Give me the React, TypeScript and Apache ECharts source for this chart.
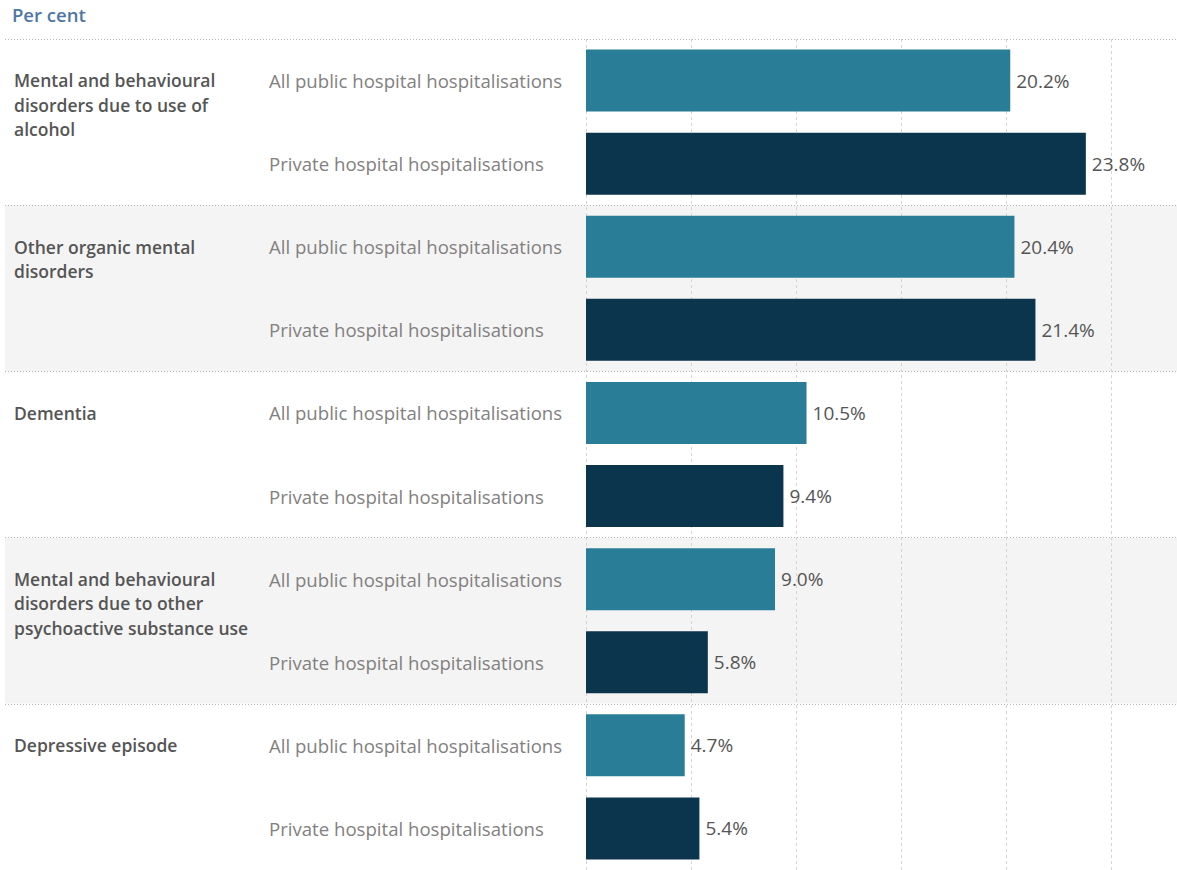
import React, { useEffect, useRef } from "react";
import * as echarts from "echarts";

const groups = [
  "Mental and behavioural\ndisorders due to use of\nalcohol",
  "Other organic mental\ndisorders",
  "Dementia",
  "Mental and behavioural\ndisorders due to other\npsychoactive substance use",
  "Depressive episode",
];
const subLabels = ["All public hospital hospitalisations", "Private hospital hospitalisations"];
const publicValues = [20.2, 20.4, 10.5, 9.0, 4.7];
const privateValues = [23.8, 21.4, 9.4, 5.8, 5.4];
const xTicks = [0, 5, 10, 15, 20, 25];

const PUBLIC_COLOR = "#2a7d96";
const PRIVATE_COLOR = "#0b354d";
const FONT = "Open Sans";

export default function App() {
  const ref = useRef<HTMLDivElement>(null);
  useEffect(() => {
    if (!ref.current) return;
    const chart = echarts.init(ref.current, undefined, { renderer: "svg" });
    const rowKeys: string[] = [];
    const rowLabels: string[] = [];
    const rowData: any[] = [];
    groups.forEach((g, i) => {
      rowKeys.push(`r${i}a`, `r${i}b`);
      rowLabels.push(subLabels[0], subLabels[1]);
      rowData.push({ value: publicValues[i], itemStyle: { color: PUBLIC_COLOR } });
      rowData.push({ value: privateValues[i], itemStyle: { color: PRIVATE_COLOR } });
    });
    const option: any = {
      animation: false,
      textStyle: { fontFamily: FONT },
      title: {
        text: "Per cent",
        left: 7,
        top: 0,
        textStyle: { fontFamily: FONT, fontSize: 18.5, fontWeight: 600, color: "#4f77a3" },
      },
      grid: [
        { left: 586, right: 0, top: 39, bottom: 0 },
        { left: 5, right: 0, top: 39, bottom: 0 },
      ],
      xAxis: [
        {
          gridIndex: 0,
          type: "value",
          min: xTicks[0],
          max: 28.14,
          interval: xTicks[1] - xTicks[0],
          z: 3,
          axisLabel: { show: false },
          axisLine: { show: false },
          axisTick: { show: false },
          splitLine: { show: true, lineStyle: { type: [3, 3], color: "#d4d4d4", width: 1 } },
        },
        { gridIndex: 1, type: "value", min: 0, max: 1, show: false },
      ],
      yAxis: [
        {
          gridIndex: 0,
          type: "category",
          inverse: true,
          data: rowKeys,
          z: 3,
          axisLine: { show: false },
          axisTick: { show: false },
          splitLine: { show: false },
          axisLabel: {
            align: "left",
            margin: 317,
            fontSize: 18.6,
            fontFamily: FONT,
            color: "#838080",
            formatter: (_v: string, idx: number) => rowLabels[idx],
          },
        },
        {
          gridIndex: 1,
          type: "category",
          inverse: true,
          data: groups.map((_, i) => `g${i}`),
          z: 0,
          axisLine: { show: false },
          axisTick: { show: false },
          axisLabel: { show: false },
          splitArea: { show: true, areaStyle: { color: ["#ffffff", "#f4f4f4"] } },
          splitLine: { show: true, lineStyle: { type: [1, 2], color: "#b8b8b8", width: 1 } },
        },
      ],
      series: [
        {
          type: "bar",
          xAxisIndex: 0,
          yAxisIndex: 0,
          data: rowData,
          barWidth: 62,
          z: 5,
          label: {
            show: true,
            position: "right",
            distance: 6,
            fontSize: 19,
            fontFamily: FONT,
            color: "#555555",
            formatter: (p: any) => `${Number(p.value).toFixed(1)}%`,
          },
        },
      ],
    };
    chart.setOption(option);
    const graphics = groups.map((g, i) => {
      const y = chart.convertToPixel({ yAxisIndex: 0 }, rowKeys[i * 2]) as number;
      return {
        type: "text",
        x: 14,
        y: y - 12.5,
        z: 10,
        style: {
          text: g,
          fontFamily: FONT,
          fontSize: 17.5,
          fontWeight: 600,
          lineHeight: 24.5,
          fill: "#555555",
          textVerticalAlign: "top",
          verticalAlign: "top",
        },
      };
    });
    chart.setOption({ graphic: graphics });
    return () => chart.dispose();
  }, []);
  return (
    <div
      ref={ref}
      style={{ position: "fixed", left: 0, top: 0, width: 1177, height: 870, background: "#fff" }}
    />
  );
}
